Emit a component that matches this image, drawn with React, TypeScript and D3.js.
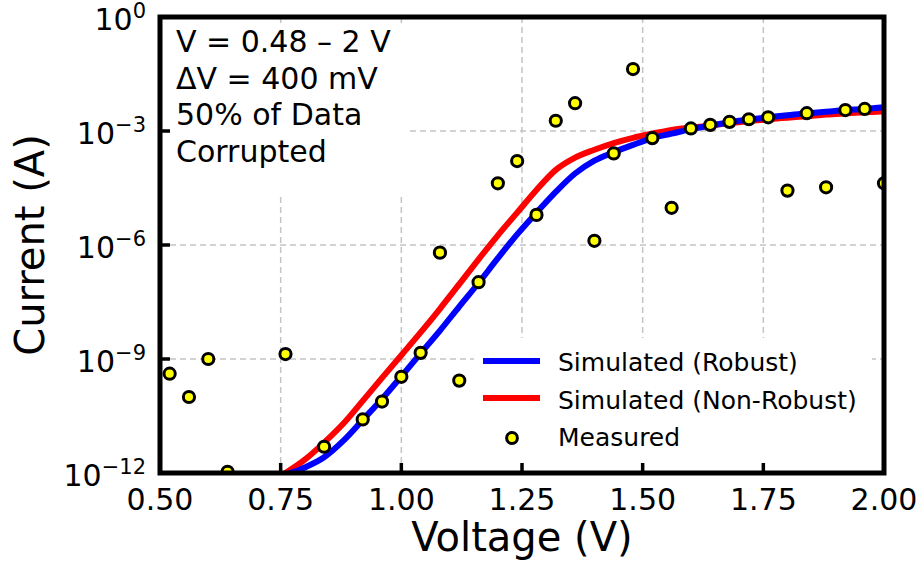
import React from "react";
import * as d3 from "d3";

const measuredV = [0.52, 0.56, 0.60, 0.64, 0.76, 0.84, 0.92, 0.96, 1.00, 1.04, 1.08, 1.12, 1.16, 1.20, 1.24, 1.28, 1.32, 1.36, 1.40, 1.44, 1.48, 1.52, 1.56, 1.60, 1.64, 1.68, 1.72, 1.76, 1.80, 1.84, 1.88, 1.92, 1.96, 2.00];
const measuredI = [4.1e-10, 1.0e-10, 1.0e-9, 1.07e-12, 1.35e-9, 4.9e-12, 2.57e-11, 7.6e-11, 3.4e-10, 1.45e-9, 6.3e-7, 2.7e-10, 1.05e-7, 4.2e-5, 1.62e-4, 6.2e-6, 1.86e-3, 5.4e-3, 1.29e-6, 2.57e-4, 4.27e-2, 6.5e-4, 9.5e-6, 1.17e-3, 1.45e-3, 1.74e-3, 2.04e-3, 2.29e-3, 2.7e-5, 2.95e-3, 3.3e-5, 3.55e-3, 3.8e-3, 4.2e-5];

const simV = [0.72, 0.76, 0.80, 0.84, 0.88, 0.92, 0.96, 1.00, 1.04, 1.08, 1.12, 1.16, 1.20, 1.24, 1.28, 1.32, 1.36, 1.40, 1.44, 1.48, 1.52, 1.56, 1.60, 1.64, 1.68, 1.72, 1.76, 1.80, 1.84, 1.88, 1.92, 1.96, 2.00];
const robustI = [5.6e-13, 8.9e-13, 1.4e-12, 2.6e-12, 7.1e-12, 2.5e-11, 8.9e-11, 3.5e-10, 1.41e-9, 5.6e-9, 2.4e-8, 1.0e-7, 4.5e-7, 1.9e-6, 7.1e-6, 2.5e-5, 7.6e-5, 1.66e-4, 2.75e-4, 4.3e-4, 6.5e-4, 8.5e-4, 1.12e-3, 1.38e-3, 1.70e-3, 2.0e-3, 2.3e-3, 2.6e-3, 2.95e-3, 3.2e-3, 3.55e-3, 3.8e-3, 4.2e-3];
const nonRobustI = [5.0e-13, 1.0e-12, 2.24e-12, 6.3e-12, 2.0e-11, 7.9e-11, 3.2e-10, 1.26e-9, 5.0e-9, 2.1e-8, 9.3e-8, 4.2e-7, 1.8e-6, 7.1e-6, 2.8e-5, 9.5e-5, 2.0e-4, 3.2e-4, 4.8e-4, 6.6e-4, 8.5e-4, 1.07e-3, 1.23e-3, 1.38e-3, 1.62e-3, 1.82e-3, 2.04e-3, 2.24e-3, 2.45e-3, 2.7e-3, 2.9e-3, 3.1e-3, 3.3e-3];

const xTicks = [0.5, 0.75, 1.0, 1.25, 1.5, 1.75, 2.0];
const xTickLabels = ["0.50", "0.75", "1.00", "1.25", "1.50", "1.75", "2.00"];
const yTicks = [1, 1e-3, 1e-6, 1e-9, 1e-12];
const yTickExps = ["0", "\u22123", "\u22126", "\u22129", "\u221212"];

const annotationLines = ["V = 0.48 \u2013 2 V", "\u0394V = 400 mV", "50% of Data", "Corrupted"];
const legendLabels = ["Simulated (Robust)", "Simulated (Non-Robust)", "Measured"];

const FONT = "DejaVu Sans, sans-serif";

export default function App() {
  const W = 923, H = 563;
  const left = 160, right = 884, top = 17, bottom = 473;
  const x = d3.scaleLinear().domain([0.5, 2.0]).range([left, right]);
  const y = d3.scaleLog().domain([1e-12, 1]).range([bottom, top]);

  const line = d3
    .line<[number, number]>()
    .x((d) => x(d[0]))
    .y((d) => y(d[1]))
    .curve(d3.curveMonotoneX);

  const robust = simV.map((v, i) => [v, robustI[i]] as [number, number]);
  const nonRobust = simV.map((v, i) => [v, nonRobustI[i]] as [number, number]);

  const gridColor = "#c4c4c4";

  return (
    <svg
      width={W}
      height={H}
      viewBox={`0 0 ${W} ${H}`}
      style={{ position: "absolute", left: 0, top: 0, display: "block", background: "#fff" }}
      fontFamily={FONT}
    >
      <defs>
        <clipPath id="plotclip">
          <rect x={left} y={top} width={right - left} height={bottom - top} />
        </clipPath>
      </defs>
      <rect x={0} y={0} width={W} height={H} fill="#fff" />

      {/* grid */}
      <g stroke={gridColor} strokeWidth={1.5} strokeDasharray="6,4">
        {xTicks.slice(1, -1).map((t) => (
          <line key={"gx" + t} x1={x(t)} x2={x(t)} y1={top} y2={bottom} />
        ))}
        {yTicks.slice(1, -1).map((t) => (
          <line key={"gy" + t} x1={left} x2={right} y1={y(t)} y2={y(t)} />
        ))}
      </g>

      {/* annotation box background */}
      <rect x={162} y={26} width={246} height={168} fill="#fff" />

      {/* legend background */}
      <rect x={474} y={338} width={398} height={128} fill="#fff" />

      <g clipPath="url(#plotclip)">
        <path d={line(nonRobust) || ""} fill="none" stroke="#ff0000" strokeWidth={6} strokeLinejoin="round" />
        <path d={line(robust) || ""} fill="none" stroke="#0000ff" strokeWidth={6} strokeLinejoin="round" />
        {measuredV.map((v, i) => (
          <circle key={"m" + i} cx={x(v)} cy={y(measuredI[i])} r={5.6} fill="#ffff00" stroke="#000" strokeWidth={3} />
        ))}
      </g>

      {/* annotation text */}
      {annotationLines.map((t, i) => (
        <text key={"a" + i} x={176} y={52 + i * 36.7} fontSize={30} fill="#000">
          {t}
        </text>
      ))}

      {/* legend */}
      <line x1={483} x2={540} y1={361} y2={361} stroke="#0000ff" strokeWidth={6} />
      <line x1={483} x2={540} y1={398} y2={398} stroke="#ff0000" strokeWidth={6} />
      <circle cx={512} cy={438} r={5.4} fill="#ffff00" stroke="#000" strokeWidth={3} />
      {legendLabels.map((t, i) => (
        <text key={"l" + i} x={558} y={371 + i * 37.5} fontSize={25} fill="#000">
          {t}
        </text>
      ))}

      {/* ticks */}
      <g stroke="#000" strokeWidth={3.5}>
        {xTicks.map((t) => (
          <line key={"tx" + t} x1={x(t)} x2={x(t)} y1={bottom} y2={bottom - 10} />
        ))}
        {yTicks.map((t) => (
          <line key={"ty" + t} x1={left} x2={left + 10} y1={y(t)} y2={y(t)} />
        ))}
      </g>

      {/* spines */}
      <rect x={left} y={top} width={right - left} height={bottom - top} fill="none" stroke="#000" strokeWidth={5} />

      {/* x tick labels */}
      {xTicks.map((t, i) => (
        <text key={"xl" + t} x={x(t)} y={510} fontSize={30} textAnchor="middle" fill="#000">
          {xTickLabels[i]}
        </text>
      ))}

      {/* y tick labels */}
      {yTicks.map((t, i) => (
        <text key={"yl" + t} x={146} y={y(t) + 13} fontSize={30} textAnchor="end" fill="#000">
          <tspan>10</tspan>
          <tspan dy={-12} fontSize={21}>
            {yTickExps[i]}
          </tspan>
        </text>
      ))}

      {/* axis labels */}
      <text x={(left + right) / 2} y={551} fontSize={40} textAnchor="middle" fill="#000">
        Voltage (V)
      </text>
      <text
        transform={`translate(44, ${(top + bottom) / 2}) rotate(-90)`}
        fontSize={40}
        textAnchor="middle"
        fill="#000"
      >
        Current (A)
      </text>
    </svg>
  );
}
